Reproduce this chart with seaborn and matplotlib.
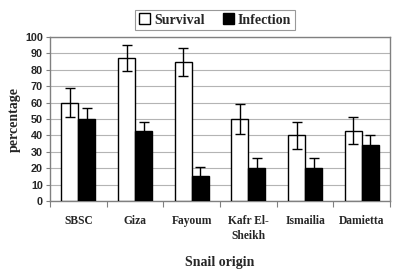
import numpy as np
import pandas as pd
import matplotlib
matplotlib.use('Agg')
import matplotlib.pyplot as plt
import seaborn as sns

# values
origins = ['SBSC', 'Giza', 'Fayoum', 'Kafr El-\nSheikh', 'Ismailia', 'Damietta']
survival = [60, 87, 85, 50, 40, 43]
survival_err = [9, 8, 8.5, 9, 8, 8.5]
infection = [50, 43, 15, 20, 20, 34]
infection_err = [6.5, 5.5, 6, 6, 6, 6]

df = pd.DataFrame({
    'origin': origins * 2,
    'value': survival + infection,
    'group': ['Survival'] * 6 + ['Infection'] * 6,
})

sns.set_style('white')
fig = plt.figure(figsize=(3.94, 2.74), dpi=100)
ax = fig.add_axes([0.127, 0.266, 0.863, 0.599])

sns.barplot(data=df, x='origin', y='value', hue='group', palette=['white', 'black'],
            edgecolor='black', linewidth=1.0, errorbar=None, width=0.6, ax=ax, zorder=3)

# error bars on top of each bar
for cont, (vals, errs) in zip(ax.containers, [(survival, survival_err), (infection, infection_err)]):
    xs = [p.get_x() + p.get_width() / 2 for p in cont.patches]
    ax.errorbar(xs, vals, yerr=errs, fmt='none', ecolor='black', elinewidth=1.0,
                capsize=3.5, capthick=1.0, zorder=4)

ax.set_ylim(0, 100)
ax.set_xlim(-0.5, 5.5)
ax.set_yticks(range(0, 101, 10))
ax.yaxis.grid(True, color='#b4b4b4', linewidth=0.8, zorder=0)
ax.set_axisbelow(True)
for s in ax.spines.values():
    s.set_color('#808080')
    s.set_linewidth(1.0)

ax.tick_params(axis='y', length=3, width=0.8, color='#808080', pad=2, left=True)
ax.tick_params(axis='x', length=0, pad=10)
ax.set_xticks(np.arange(-0.5, 6, 1), minor=True)
ax.tick_params(axis='x', which='minor', length=4, width=0.8, color='#808080', bottom=True)

for lab in ax.get_yticklabels():
    lab.set_fontfamily('Liberation Sans')
    lab.set_fontweight('bold')
    lab.set_fontsize(7.8)
for lab in ax.get_xticklabels():
    lab.set_fontfamily('Liberation Serif')
    lab.set_fontweight('bold')
    lab.set_fontsize(8.3)
    lab.set_linespacing(1.35)
    lab.set_verticalalignment('top')

ax.set_ylabel('percentage', fontfamily='Liberation Serif', fontweight='bold', fontsize=10, labelpad=3)
ax.set_xlabel('Snail origin', fontfamily='Liberation Serif', fontweight='bold', fontsize=10, labelpad=10)

ax.legend(loc='center', bbox_to_anchor=(0.546, 0.927), bbox_transform=fig.transFigure,
          ncol=2, frameon=True, fancybox=False, edgecolor='#808080', handlelength=0.8,
          handleheight=0.8, handletextpad=0.3, columnspacing=1.3, borderpad=0.25,
          prop={'family': 'Liberation Serif', 'weight': 'bold', 'size': 10})
leg = ax.get_legend()
leg.get_frame().set_linewidth(0.8)
for h in leg.legend_handles:
    h.set_edgecolor('black')

fig.savefig('out.png', dpi=100)
